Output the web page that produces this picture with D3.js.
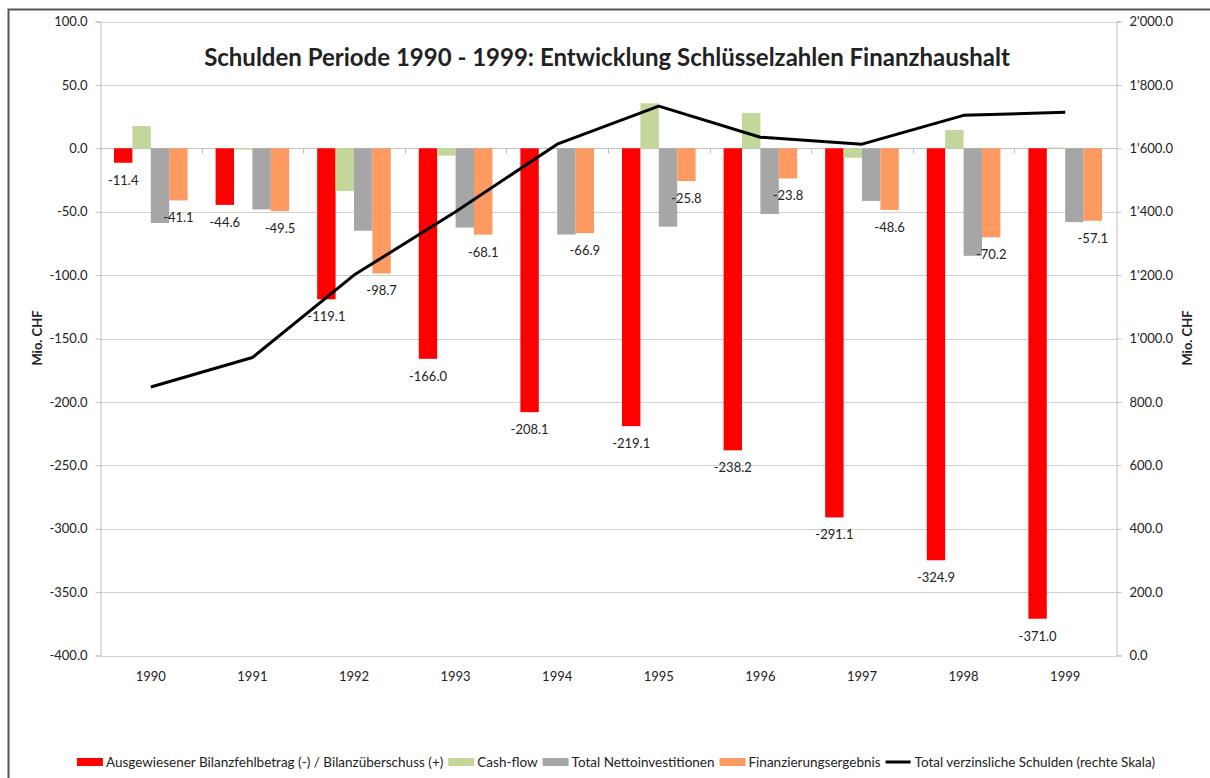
<!DOCTYPE html>
<html>
<head>
<meta charset="utf-8">
<script src="https://cdn.jsdelivr.net/npm/d3@7"></script>
<style>
  body { margin: 0; background: #fff; }
  svg text { font-family: Lato, "Open Sans", sans-serif; fill: #222; }
</style>
</head>
<body>
<div id="chart"></div>
<script>
var years = ["1990", "1991", "1992", "1993", "1994", "1995", "1996", "1997", "1998", "1999"];
var bilanz = [-11.4, -44.6, -119.1, -166.0, -208.1, -219.1, -238.2, -291.1, -324.9, -371.0];
var cashflow = [17.6, -1.0, -33.7, -5.8, 0.5, 35.5, 27.8, -7.4, 14.4, 0.6];
var nettoinv = [-58.9, -48.2, -65.0, -62.5, -68.0, -61.8, -51.8, -41.5, -84.8, -58.2];
var finanz = [-41.1, -49.5, -98.7, -68.1, -66.9, -25.8, -23.8, -48.6, -70.2, -57.1];
var schulden = [847, 940, 1200, 1400, 1613, 1733, 1635, 1613, 1704, 1714];
var leftTicks = [100, 50, 0, -50, -100, -150, -200, -250, -300, -350, -400];
var rightTicks = [2000, 1800, 1600, 1400, 1200, 1000, 800, 600, 400, 200, 0];

var seriesNames = ["Ausgewiesener Bilanzfehlbetrag (-) / Bilanzüberschuss (+)", "Cash-flow",
    "Total Nettoinvestitionen", "Finanzierungsergebnis"];
var seriesColors = ["#ff0000", "#c4d79b", "#a6a6a6", "#fd9a62"];
var lineName = "Total verzinsliche Schulden (rechte Skala)";

var width = 1210, height = 778;
var plot = {left: 100, right: 1116, top: 21.5, bottom: 655.5};

var svg = d3.select("#chart").append("svg")
    .attr("width", width)
    .attr("height", height);

// chart frame
svg.append("rect")
    .attr("x", 8.5).attr("y", 9.5)
    .attr("width", width + 20).attr("height", height + 20)
    .attr("fill", "none")
    .attr("stroke", "#555")
    .attr("stroke-width", 2);

var x = d3.scaleBand().domain(years).range([plot.left, plot.right]).padding(0);
var x1 = d3.scaleBand().domain(d3.range(4)).range([0, x.bandwidth()]).paddingInner(0).paddingOuter(0.76);
var y = d3.scaleLinear().domain([-400, 100]).range([plot.bottom, plot.top]);
var yR = d3.scaleLinear().domain([0, 2000]).range([plot.bottom, plot.top]);

// gridlines
svg.append("g")
    .selectAll("line")
    .data(leftTicks)
    .enter()
    .append("line")
        .attr("x1", plot.left).attr("x2", plot.right)
        .attr("y1", function(d) { return Math.round(y(d)) + 0.5; })
        .attr("y2", function(d) { return Math.round(y(d)) + 0.5; })
        .attr("stroke", "#d0d0d0");

// left axis
var axisL = svg.append("g")
    .attr("transform", "translate(" + (plot.left + 0.5) + ",0)")
    .call(d3.axisLeft(y).tickValues(leftTicks).tickSize(5).tickPadding(8)
        .tickFormat(function(d) { return d3.format(".1f")(d).replace("−", "-"); }));
axisL.select(".domain").attr("stroke", "#bfbfbf");
axisL.selectAll(".tick line").attr("stroke", "#bfbfbf");
axisL.selectAll(".tick text").style("font-size", "13px").attr("fill", "#222");

// right axis
function fmtR(d) {
    var s = d3.format(".1f")(d);
    var parts = s.split(".");
    var intPart = parts[0].replace(/\B(?=(\d{3})+(?!\d))/g, "'");
    return intPart + "." + parts[1];
}
var axisR = svg.append("g")
    .attr("transform", "translate(" + (plot.right + 0.5) + ",0)")
    .call(d3.axisRight(yR).tickValues(rightTicks).tickSize(5).tickPadding(8).tickFormat(fmtR));
axisR.select(".domain").attr("stroke", "#bfbfbf");
axisR.selectAll(".tick line").attr("stroke", "#bfbfbf");
axisR.selectAll(".tick text").style("font-size", "13px").attr("fill", "#222");

// category axis at zero, tick marks between categories
var zeroY = Math.round(y(0)) + 0.5;
svg.append("line")
    .attr("x1", plot.left).attr("x2", plot.right)
    .attr("y1", zeroY).attr("y2", zeroY)
    .attr("stroke", "#bfbfbf");
svg.append("g")
    .selectAll("line")
    .data(years.slice(1))
    .enter()
    .append("line")
        .attr("x1", function(d) { return Math.round(x(d)) + 0.5; })
        .attr("x2", function(d) { return Math.round(x(d)) + 0.5; })
        .attr("y1", zeroY).attr("y2", zeroY + 5)
        .attr("stroke", "#bfbfbf");

// year labels at bottom
svg.append("g")
    .selectAll("text")
    .data(years)
    .enter()
    .append("text")
        .attr("x", function(d) { return x(d) + x.bandwidth() / 2; })
        .attr("y", 681)
        .attr("text-anchor", "middle")
        .style("font-size", "13px")
        .text(function(d) { return d; });

// bars
var allSeries = [bilanz, cashflow, nettoinv, finanz];
allSeries.forEach(function(vals, si) {
    svg.append("g")
        .selectAll("rect")
        .data(vals)
        .enter()
        .append("rect")
            .attr("x", function(d, i) { return x(years[i]) + x1(si); })
            .attr("width", x1.bandwidth())
            .attr("y", function(d) { return y(Math.max(0, d)); })
            .attr("height", function(d) { return Math.abs(y(d) - y(0)); })
            .attr("fill", seriesColors[si]);
});

// data labels for red and orange series
[0, 3].forEach(function(si) {
    svg.append("g")
        .selectAll("text")
        .data(allSeries[si])
        .enter()
        .append("text")
            .attr("x", function(d, i) { return x(years[i]) + x1(si) + x1.bandwidth() / 2; })
            .attr("y", function(d) { return y(d) + 22; })
            .attr("text-anchor", "middle")
            .style("font-size", "13px")
            .text(function(d) { return d3.format(".1f")(d).replace("−", "-"); });
});

// debt line (right scale)
var line = d3.line()
    .x(function(d, i) { return x(years[i]) + x.bandwidth() / 2; })
    .y(function(d) { return yR(d); });
svg.append("path")
    .datum(schulden)
    .attr("d", line)
    .attr("fill", "none")
    .attr("stroke", "#000")
    .attr("stroke-width", 3)
    .attr("stroke-linejoin", "round");

// title, fitted to the reference width
var title = svg.append("text")
    .attr("x", 607)
    .attr("y", 66)
    .attr("text-anchor", "middle")
    .style("font-weight", "bold")
    .style("font-size", "24px")
    .attr("fill", "#000")
    .text("Schulden Periode 1990 - 1999: Entwicklung Schlüsselzahlen Finanzhaushalt");
var tw = title.node().getComputedTextLength();
title.style("font-size", (24 * 805 / tw).toFixed(1) + "px");

// axis titles
svg.append("text")
    .attr("transform", "translate(42,338) rotate(-90)")
    .attr("text-anchor", "middle")
    .style("font-size", "13px")
    .style("font-weight", "bold")
    .text("Mio. CHF");
svg.append("text")
    .attr("transform", "translate(1192,338) rotate(-90)")
    .attr("text-anchor", "middle")
    .style("font-size", "13px")
    .style("font-weight", "bold")
    .text("Mio. CHF");

// legend
var legendItems = seriesNames.map(function(n, i) { return {name: n, color: seriesColors[i], type: "rect"}; });
legendItems.push({name: lineName, color: "#000", type: "line"});
var legend = svg.append("g");
var lx = 0;
legendItems.forEach(function(item) {
    var g = legend.append("g").attr("transform", "translate(" + lx + ",0)");
    if (item.type === "rect") {
        g.append("rect").attr("x", 0).attr("y", -4).attr("width", 26).attr("height", 8).attr("fill", item.color);
    } else {
        g.append("line").attr("x1", 0).attr("x2", 25).attr("y1", 0).attr("y2", 0)
            .attr("stroke", item.color).attr("stroke-width", 3);
    }
    var t = g.append("text")
        .attr("x", 29)
        .attr("y", 4.5)
        .style("font-size", "13.5px")
        .text(item.name);
    lx += 29 + t.node().getComputedTextLength() + 5;
});
var lw = lx - 5;
legend.attr("transform", "translate(" + (616 - lw / 2) + ",762)");
</script>
</body>
</html>
